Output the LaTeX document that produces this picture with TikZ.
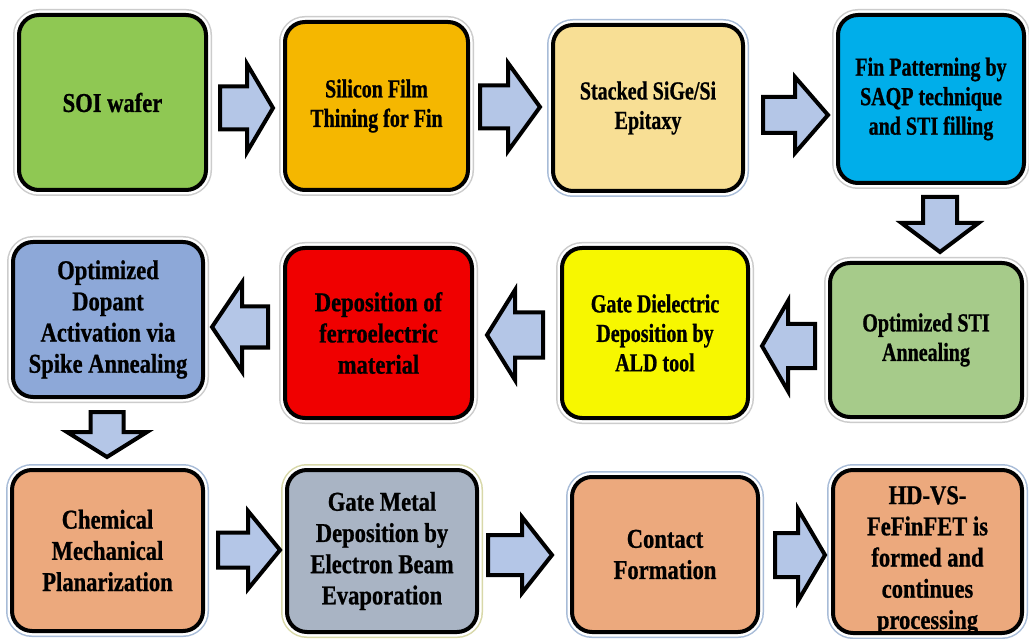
\documentclass[tikz,border=0pt]{standalone}
\usepackage{fontspec}
\setmainfont{Liberation Serif}
\newfontfamily\famA{Liberation Serif}[FakeStretch=0.77, FakeBold=0.8]
\newfontfamily\famB{Liberation Serif}[FakeStretch=0.83, FakeBold=0.8]
\newcommand\fontA{\famA\bfseries\fontsize{26}{29.5}\selectfont}
\newcommand\fontB{\famB\bfseries\fontsize{27.2}{31.2}\selectfont}
\definecolor{cgreen}{HTML}{8FC853}
\definecolor{corange}{HTML}{F5B700}
\definecolor{cgold}{HTML}{F8DF95}
\definecolor{ccyan}{HTML}{00AEEA}
\definecolor{csage}{HTML}{A6CB8A}
\definecolor{cyellow}{HTML}{F7F700}
\definecolor{cred}{HTML}{F00000}
\definecolor{cperi}{HTML}{8DA8D8}
\definecolor{cpeach}{HTML}{ECA97D}
\definecolor{cslate}{HTML}{A9B4C4}
\definecolor{carrow}{HTML}{B4C6E7}
\definecolor{gblue}{HTML}{A8BCD8}
\definecolor{gyel}{HTML}{D8D8A8}
\tikzset{
  glowc/.store in=\glowcol, glowc=gray!40,
  box/.style={rounded corners=20pt, draw=black, line width=4pt, align=center,
    font=\fontB, text=black, inner sep=0pt,
    preaction={draw=\glowcol, line width=12pt},
    preaction={draw=white, line width=9pt}},
  small/.style={font=\fontA},
  barrow/.style={draw=black, fill=carrow, line width=4pt, miter limit=10, line join=miter}
}
% #1 rotation, #2 tip x, #3 tip y, #4 head length, #5 body length, #6 body half, #7 head half
\newcommand\blockarrow[7]{%
  \draw[barrow, shift={(#2,#3)}, rotate=#1] (0,0) -- (-#4,-#7) -- (-#4,-#6) -- (-#4-#5,-#6)
    -- (-#4-#5,#6) -- (-#4,#6) -- (-#4,#7) -- cycle;}
\begin{document}
\begin{tikzpicture}[x=1pt,y=-1pt]
\fill[white] (0,0) rectangle (1029,639);
\useasboundingbox (0,0) rectangle (1029,639);
% row 1
\node[box, fill=cgreen, minimum width=187pt, minimum height=175pt] (n1) at (112.5,102.5) {SOI wafer};
\node[box, small, fill=corange, minimum width=183pt, minimum height=168pt] (n2) at (376.5,106) {Silicon Film\\Thining for Fin};
\node[box, small, fill=cgold, glowc=gblue, minimum width=190pt, minimum height=166pt] (n3) at (648,108) {Stacked SiGe/Si\\Epitaxy};
\node[box, small, fill=ccyan, minimum width=186pt, minimum height=168pt] (n4) at (931,99) {Fin Patterning by\\SAQP technique\\and STI filling};
% row 2
\node[box, small, fill=csage, minimum width=192pt, minimum height=154pt] (n5) at (926,340) {Optimized STI\\Annealing};
\node[box, small, fill=cyellow, minimum width=186pt, minimum height=170pt] (n6) at (655,333) {Gate Dielectric\\Deposition by\\ALD tool};
\node[box, fill=cred, minimum width=187pt, minimum height=170pt] (n7) at (378.5,333) {Deposition of\\ferroelectric\\material};
\node[box, fill=cperi, minimum width=190pt, minimum height=155pt] (n8) at (108,319.5) {Optimized\\Dopant\\Activation via\\Spike Annealing};
% row 3
\node[box, fill=cpeach, glowc=gblue, minimum width=191pt, minimum height=161pt] (n9) at (107.5,550.5) {Chemical\\Mechanical\\Planarization};
\node[box, fill=cslate, glowc=gyel, minimum width=190pt, minimum height=162pt] (n10) at (382,551) {Gate Metal\\Deposition by\\Electron Beam\\Evaporation};
\node[box, fill=cpeach, glowc=gblue, minimum width=186pt, minimum height=155pt] (n11) at (665,554.5) {Contact\\Formation};
\node[box, fill=cpeach, glowc=gblue, minimum width=189pt, minimum height=163pt,
  label={[font=\fontB, align=center, text=black, inner sep=0pt, yshift=-9pt]center:HD-VS-\\FeFinFET is\\formed and\\continues\\processing}] (n12) at (927.5,551.5) {};
% arrows
\blockarrow{0}{273}{108}{26}{27}{21.5}{44}
\blockarrow{0}{540}{107}{32}{28}{21.5}{44}
\blockarrow{0}{828}{115}{33}{32}{18}{38}
\blockarrow{-90}{940}{252}{29}{26}{17}{38.5}
\blockarrow{180}{762}{346}{26}{27}{22}{45}
\blockarrow{180}{487}{335}{28}{28}{22.5}{45}
\blockarrow{180}{212}{327}{30}{26}{20.5}{44.5}
\blockarrow{-90}{107}{457}{25}{20}{16.5}{40}
\blockarrow{0}{280}{550}{32}{30}{17.5}{39}
\blockarrow{0}{552}{555}{30}{34}{20}{38}
\blockarrow{0}{825}{555}{27}{23}{22}{46}
\end{tikzpicture}
\end{document}
